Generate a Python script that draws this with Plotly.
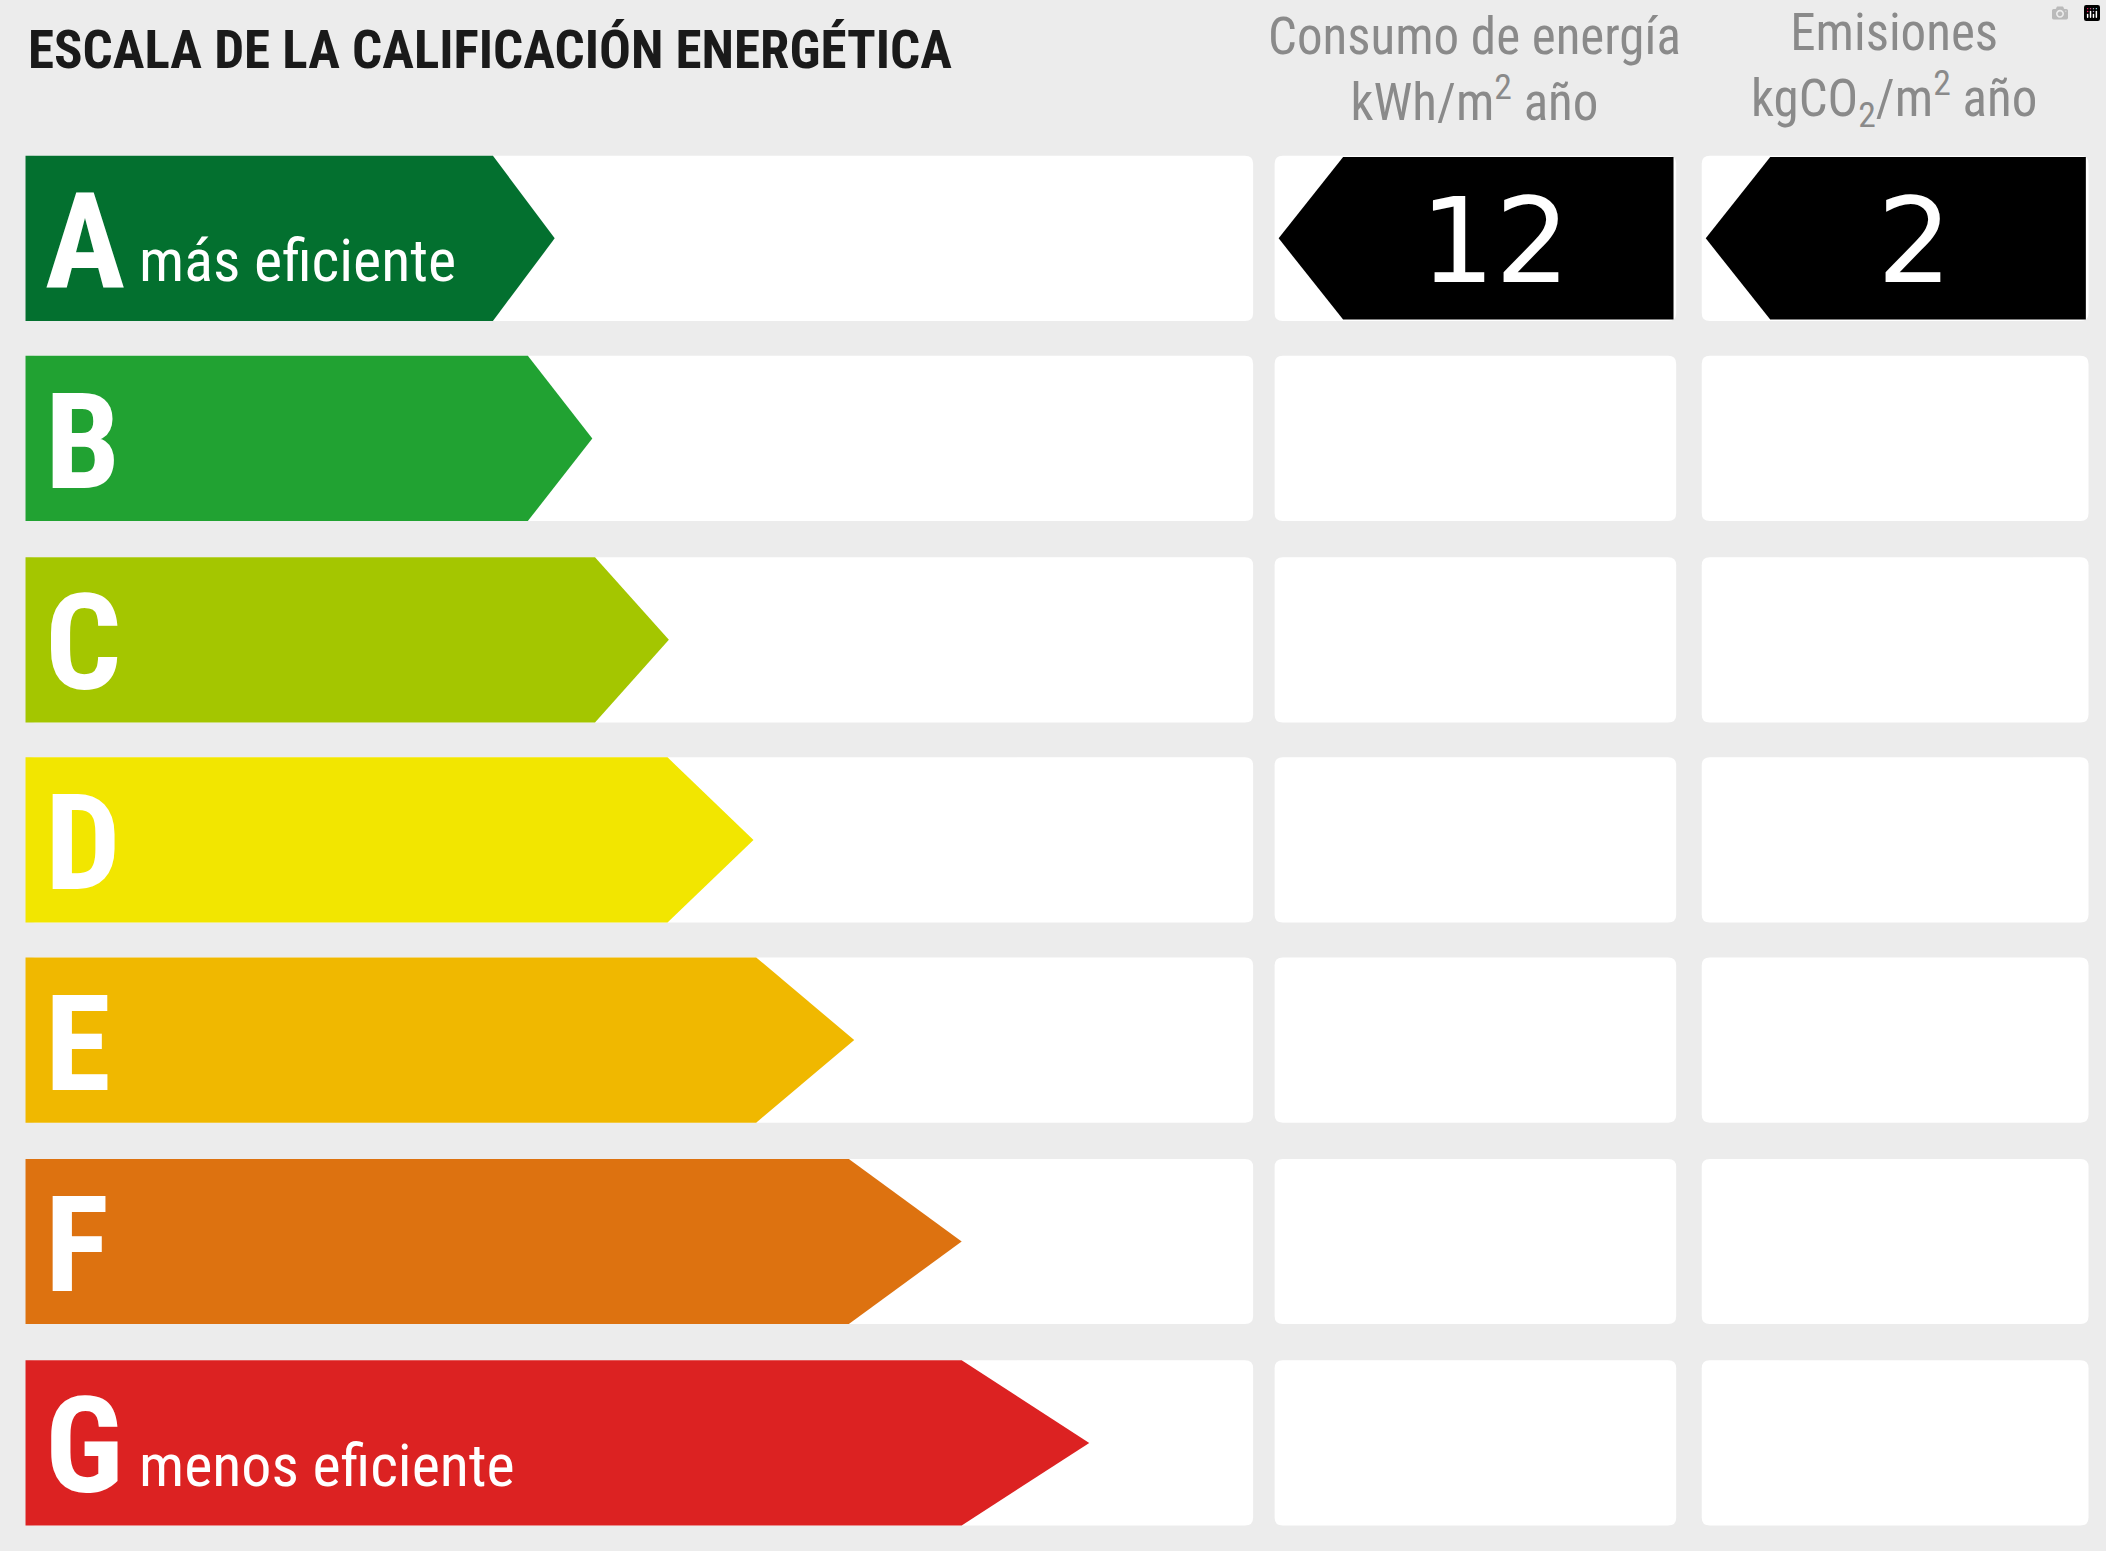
import plotly.graph_objects as go

letters = ["A", "B", "C", "D", "E", "F", "G"]
colors = ["#03702f", "#21a232", "#a4c600", "#f2e600", "#f0b800", "#dd7210", "#dc2222"]
body_end = [367, 393, 443, 497, 563, 632, 716]
tip_x = [413, 441, 498, 561, 636, 716, 811]
row_top = [116, 265, 415, 564, 713, 863, 1013]
sublabels = {"A": "más eficiente", "G": "menos eficiente"}
energy_value = "12"
emission_value = "2"
energy_class = "A"
title = "ESCALA DE LA CALIFICACIÓN ENERGÉTICA"
head1 = "Consumo de energía<br>kWh/m<sup>2</sup> año"
head2 = "Emisiones<br>kgCO<sub>2</sub>/m<sup>2</sup> año"

W, H = 1568, 1155
RH = 123
S = 2106 / 1568
COND = "Liberation Sans Narrow, Roboto Condensed, Arial Narrow, sans-serif"

fig = go.Figure()
shapes = []

def rrect(x0, y0, x1, y1, r=6):
    return dict(type="path", line=dict(width=0), fillcolor="white", layer="below",
                path=f"M{x0+r},{y0} L{x1-r},{y0} Q{x1},{y0} {x1},{y0+r} L{x1},{y1-r} Q{x1},{y1} {x1-r},{y1} "
                     f"L{x0+r},{y1} Q{x0},{y1} {x0},{y1-r} L{x0},{y0+r} Q{x0},{y0} {x0+r},{y0} Z")

for i, L in enumerate(letters):
    y0 = row_top[i]; y1 = y0 + RH; ym = (y0 + y1) / 2
    shapes.append(rrect(20, y0, 933, y1))
    shapes.append(rrect(949, y0, 1248, y1))
    shapes.append(rrect(1267, y0, 1555, y1))
    fig.add_trace(go.Scatter(x=[19, body_end[i], tip_x[i], body_end[i], 19, 19],
                             y=[y0, y0, ym, y1, y1, y0], fill="toself", mode="lines",
                             line=dict(width=0, color=colors[i]), fillcolor=colors[i],
                             hoverinfo="skip", showlegend=False))
    fig.add_annotation(x=32, y=ym + 3, text=f"<b>{L}</b>", showarrow=False, xanchor="left",
                       yanchor="middle", font=dict(family=COND, size=int(100 * S), color="white"))
    if L in sublabels:
        fig.add_annotation(x=102, y=y0 + 106, text=sublabels[L], showarrow=False, xanchor="left",
                           yanchor="bottom", font=dict(family=COND, size=int(45 * S), color="white"))
    if L == energy_class:
        for (bx0, bx1, tx, val) in [(1000, 1246, 952, energy_value), (1318, 1553, 1270, emission_value)]:
            fig.add_trace(go.Scatter(x=[tx, bx0, bx1, bx1, bx0, tx], y=[ym, y0 + 1, y0 + 1, y1 - 1, y1 - 1, ym],
                                     fill="toself", mode="lines", line=dict(width=0, color="black"),
                                     fillcolor="black", hoverinfo="skip", showlegend=False))
            fig.add_annotation(x=(bx0 + bx1) / 2 - 10, y=ym + 2, text=val, showarrow=False,
                               font=dict(family="DejaVu Sans", size=int(88 * S), color="white"))

fig.add_annotation(x=19, y=37, text=f"<b>{title}</b>", showarrow=False, xanchor="left", yanchor="middle",
                   font=dict(family=COND, size=int(40 * S), color="#1a1a1a"))
fig.add_annotation(x=1098, y=52, text=head1, showarrow=False, yanchor="middle",
                   font=dict(family=COND, size=int(38 * S), color="#8a8a8a"))
fig.add_annotation(x=1410, y=52, text=head2, showarrow=False, yanchor="middle",
                   font=dict(family=COND, size=int(38 * S), color="#8a8a8a"))

fig.update_layout(width=2106, height=1551, margin=dict(l=0, r=0, t=0, b=0),
                  paper_bgcolor="#ececec", plot_bgcolor="#ececec", shapes=shapes,
                  xaxis=dict(range=[0, W], visible=False, fixedrange=True),
                  yaxis=dict(range=[H, 0], visible=False, fixedrange=True))
fig.write_html("out.html", post_script="document.body.style.margin='0';document.body.style.background='#ececec';")
